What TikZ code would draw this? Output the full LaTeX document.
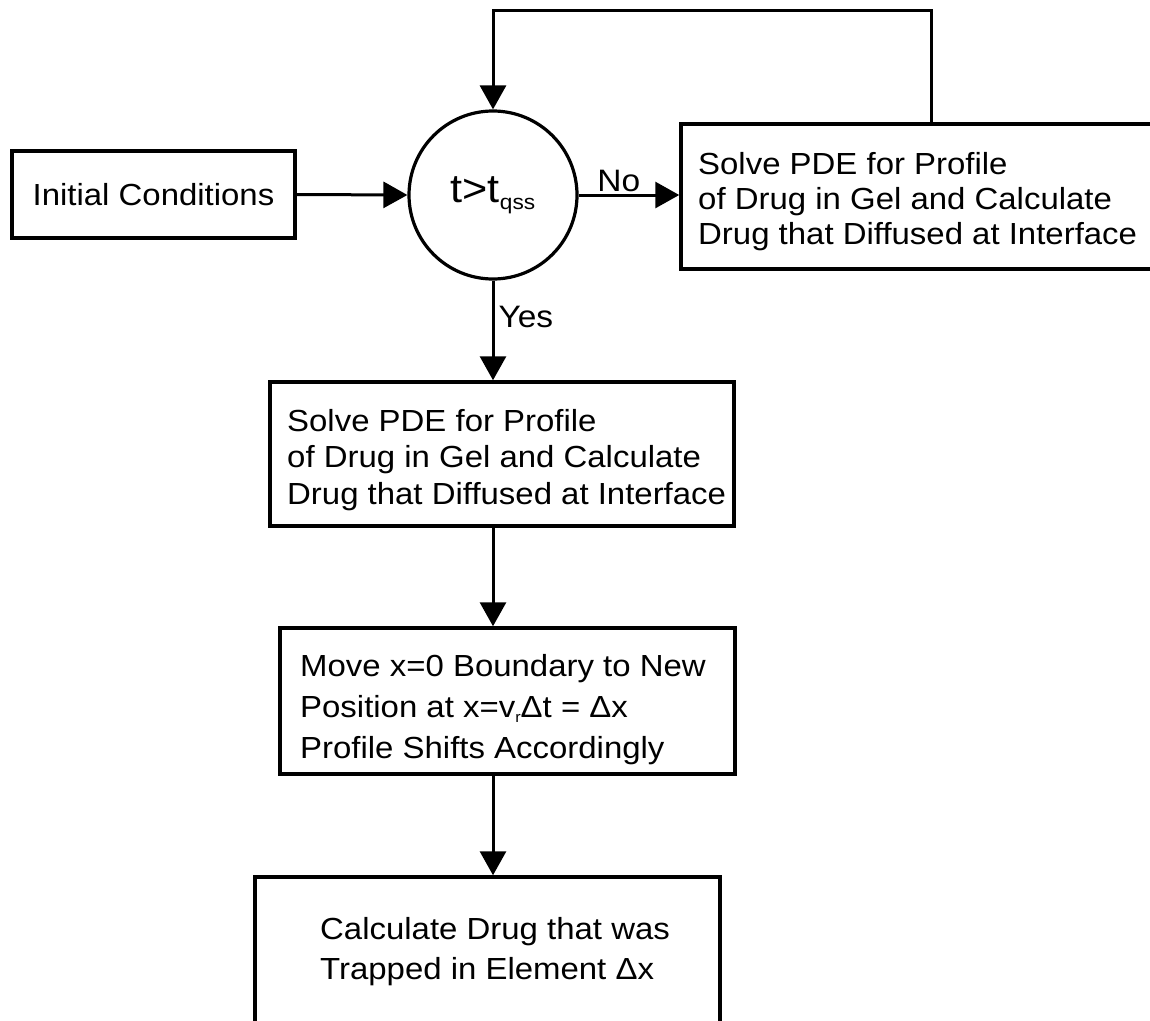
\documentclass[tikz,border=0pt]{standalone}
\usepackage{fontspec}
\setmainfont{Liberation Sans}[FakeStretch=1.08]
\usetikzlibrary{arrows.meta}
\begin{document}
\begin{tikzpicture}[x=1pt,y=-1pt,
  box/.style={draw, line width=3.5pt, rectangle, inner sep=0pt},
  arr/.style={line width=3pt, -{Triangle[length=24pt,width=26pt]}},
  txt/.style={align=left, anchor=base west, inner sep=0pt},
  lbl/.style={font=\fontsize{31}{31}\selectfont, inner sep=0pt},
]
\useasboundingbox[fill=white] (0,0) rectangle (1150,1020);
% boxes
\node[box, minimum width=283pt, minimum height=87pt, font=\fontsize{30.5}{35}\selectfont] (init) at (153.5,194.5) {Initial Conditions};
\node[draw, circle, line width=3.2pt, minimum size=168pt, inner sep=0pt] (dec) at (493,195)
  {\fontsize{40}{40}\selectfont t>t\raisebox{-7pt}{\fontsize{21}{21}\selectfont qss}};
\node[box, minimum width=479pt, minimum height=145pt] (rb) at (920.5,196.5) {};
\node[txt, font=\fontsize{30.5}{35}\selectfont] (rbt) at (698,244)
  {Solve PDE for Profile\\of Drug in Gel and Calculate\\Drug that Diffused at Interface};
\node[box, minimum width=464pt, minimum height=144pt] (b2) at (502,454) {};
\node[txt, font=\fontsize{30.5}{36.5}\selectfont] (b2t) at (287,504)
  {Solve PDE for Profile\\of Drug in Gel and Calculate\\Drug that Diffused at Interface};
\node[box, minimum width=455pt, minimum height=146pt] (b3) at (507.5,701) {};
\node[txt, font=\fontsize{30.5}{41}\selectfont] (b3t) at (300,758)
  {Move x=0 Boundary to New\\Position at x=v\raisebox{-5pt}{\fontsize{15}{15}\selectfont r}Δt = Δx\\Profile Shifts Accordingly};
\node[box, minimum width=465pt, minimum height=158pt] (b4) at (487.5,956) {};
\node[txt, font=\fontsize{30.5}{40}\selectfont] (b4t) at (320,979)
  {Calculate Drug that was\\Trapped in Element Δx};
% connectors
\coordinate (tr) at (931,10);
\coordinate (tl) at (493,10);
\draw[arr] (init.east) -- (dec.west);
\draw[arr] (dec.east) -- node[lbl, pos=0.4, anchor=base, yshift=4pt] {No} (dec.east -| rb.west);
\draw[arr] (tr |- rb.north) -- (tr) -- (tl) -- (dec.north);
\draw[arr] (dec.south) -- node[lbl, pos=0.37, anchor=west, xshift=4pt] {Yes} (dec.south |- b2.north);
\draw[arr] (dec.south |- b2.south) -- (dec.south |- b3.north);
\draw[arr] (dec.south |- b3.south) -- (dec.south |- b4.north);
\end{tikzpicture}
\end{document}
